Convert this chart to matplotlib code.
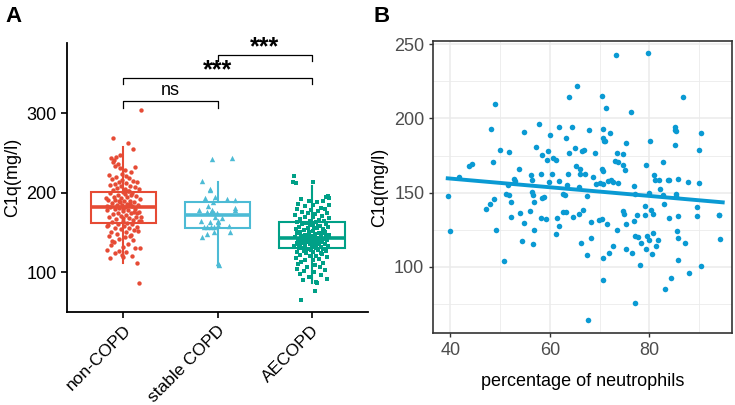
import matplotlib.pyplot as plt
import numpy as np

plt.rcParams['font.family'] = ['Liberation Sans', 'DejaVu Sans']

# ---- panel A data ----
groups = ['non-COPD', 'stable COPD', 'AECOPD']
colors = ['#E64B35', '#4DBBD5', '#00A087']
markers = ['o', '^', 's']

box_q1 = [162, 155.5, 130]
box_med = [181.5, 172, 142.5]
box_q3 = [200.5, 188.5, 163]
whis_lo = [112, 107, 86]
whis_hi = [257, 214, 209]

noncopd_y = [304, 269, 263, 255, 247, 245, 244, 241, 238, 236, 233, 232, 231, 229, 226,
             224, 222, 221, 220, 218, 217, 216, 215, 214, 213, 212, 211, 210, 209, 208,
             207, 206, 205, 204, 203, 202, 201, 200, 199, 198, 197, 196, 195, 194, 193,
             192, 191, 190, 190, 189, 188, 187, 186, 185, 185, 184, 183, 182, 182, 181,
             180, 179, 178, 178, 177, 176, 175, 174, 173, 172, 171, 170, 169, 168, 167,
             166, 165, 164, 163, 162, 161, 160, 159, 158, 157, 156, 155, 154, 153, 151,
             150, 148, 147, 145, 144, 142, 140, 138, 136, 134, 132, 130, 128, 127, 126,
             124, 122, 121, 119, 118, 112, 86, 186, 179, 174, 193, 170, 188, 197, 165,
             183, 176, 168, 191, 202, 158, 152, 146, 139, 131]
noncopd_dx = [0.19, -0.11, 0.05, 0.10, -0.04, -0.08, -0.13, -0.10, -0.11, -0.06, -0.09, 0.12,
              -0.04, 0.02, 0.08, -0.02, -0.15, 0.03, -0.08, 0.06, -0.12, -0.02, 0.10, -0.05,
              0.14, 0.03, -0.09, -0.14, 0.07, -0.03, 0.12, -0.07, 0.02, 0.16, -0.11, 0.05,
              -0.01, -0.14, 0.09, 0.02, -0.06, 0.13, -0.10, 0.04, -0.03, 0.18, -0.16, 0.07,
              -0.05, 0.01, 0.11, -0.12, 0.04, -0.07, 0.15, -0.02, 0.09, -0.14, 0.02, -0.05,
              0.12, -0.09, 0.05, -0.17, 0.00, 0.16, -0.06, 0.08, -0.11, 0.03, -0.03, 0.13,
              -0.15, 0.06, -0.08, 0.10, -0.01, 0.17, -0.12, 0.04, -0.06, 0.09, -0.16, 0.01,
              0.14, -0.09, 0.06, -0.03, 0.11, -0.13, 0.03, -0.07, 0.08, -0.15, 0.02, -0.05,
              0.10, -0.10, 0.05, -0.13, 0.00, 0.12, -0.18, -0.05, 0.03, -0.09, -0.02, 0.09,
              -0.01, -0.14, 0.14, 0.16, 0.07, -0.01, 0.14, -0.19, 0.19, -0.04, 0.08, 0.19,
              -0.17, 0.11, -0.01, -0.09, 0.06, -0.18, 0.15, 0.07, -0.12, 0.18]

stable_y = [242, 243, 215, 205, 203, 193, 195, 192, 191, 183, 188, 178, 176, 176, 178,
            175, 181, 178, 175, 165, 163, 165, 163, 157, 157, 157, 157, 159, 158, 144,
            148, 150, 150, 111, 109, 170, 168]
stable_dx = [-0.06, 0.15, -0.16, -0.08, -0.08, -0.13, -0.03, 0.10, 0.19, -0.10, -0.05,
             -0.20, -0.11, -0.07, -0.06, -0.04, 0.19, 0.19, -0.01, -0.18, -0.08, 0.00, 0.01,
             -0.14, -0.11, -0.07, -0.04, 0.01, 0.12, -0.17, -0.11, -0.04, 0.13, 0.00, 0.02,
             -0.03, 0.05]

aecopd_y = [221, 214, 212, 214, 196, 195, 193, 192, 190, 189, 188, 186, 185, 184, 183,
            181, 180, 179, 178, 177, 176, 175, 174, 173, 172, 171, 170, 169, 168, 167,
            166, 165, 164, 163, 163, 162, 161, 160, 160, 159, 158, 157, 157, 156, 155,
            154, 154, 153, 152, 151, 151, 150, 149, 149, 148, 147, 147, 146, 145, 145,
            144, 144, 143, 143, 142, 142, 141, 141, 140, 140, 139, 139, 138, 138, 137,
            137, 136, 136, 135, 135, 134, 134, 133, 133, 132, 132, 131, 131, 130, 129,
            129, 128, 127, 127, 126, 125, 124, 123, 122, 121, 120, 119, 118, 117, 116,
            115, 113, 112, 110, 109, 107, 106, 104, 103, 101, 100, 98, 96, 94, 92,
            90, 88, 86, 77, 65, 146, 139, 152, 135, 143, 158, 128, 149, 141, 137,
            155, 133, 124, 161, 147]
aecopd_dx = [-0.19, -0.20, -0.17, 0.01, 0.17, 0.15, 0.19, -0.11, 0.12, -0.03, 0.06,
             -0.14, 0.18, 0.02, -0.07, 0.10, -0.16, 0.14, -0.01, 0.07, -0.10, 0.16, -0.04,
             0.04, -0.18, 0.11, -0.07, 0.01, 0.19, -0.12, 0.08, -0.02, 0.13, -0.15, 0.05,
             -0.06, 0.15, -0.10, 0.02, -0.01, 0.09, -0.13, 0.17, -0.04, 0.06, -0.17, 0.12,
             -0.08, 0.02, -0.12, 0.14, -0.03, 0.08, -0.15, 0.04, -0.07, 0.18, -0.01, 0.10,
             -0.11, 0.03, -0.18, 0.07, -0.05, 0.13, -0.09, 0.01, -0.14, 0.16, -0.03, 0.06,
             -0.10, 0.11, -0.06, 0.02, -0.16, 0.14, -0.02, 0.08, -0.12, 0.04, -0.07, 0.17,
             -0.19, 0.00, 0.10, -0.09, 0.05, -0.13, 0.12, -0.04, 0.07, -0.08, 0.15, -0.15,
             0.02, -0.06, 0.11, -0.12, 0.05, -0.02, 0.16, -0.17, 0.08, -0.07, 0.01, -0.11,
             0.12, -0.14, 0.04, -0.05, 0.09, -0.16, 0.14, -0.08, 0.03, -0.12, 0.10, -0.03,
             0.16, -0.09, 0.05, 0.06, 0.04, -0.11, -0.05, 0.09, 0.13, -0.16, 0.00, 0.07,
             -0.01, 0.11, 0.05, -0.08, 0.03, -0.13, 0.10, -0.02, 0.15]

# ---- panel B data ----
neut_x = [40.0, 47.2, 49.2, 50.8, 52.1, 54.0, 54.8, 54.5, 56.1, 56.6, 56.9, 58.2, 59.3,
          61.2, 61.5, 61.9, 62.7, 63.2, 64.6, 65.9, 66.2, 66.6, 67.5, 68.2, 68.2, 67.6,
          70.6, 70.6, 69.9, 70.5, 71.5, 71.9, 72.7, 73.5, 74.7, 74.8, 75.2, 75.2, 76.5,
          76.8, 77.1, 77.6, 77.1, 77.5, 78.0, 78.3, 79.0, 79.1, 79.5, 79.9, 79.3, 80.3,
          80.7, 80.7, 80.6, 81.4, 81.8, 82.9, 83.2, 84.0, 84.3, 85.5, 85.8, 85.8, 85.7,
          87.2, 88.0, 89.5, 89.5, 90.3, 94.0, 94.2,
          39.5, 41.7, 43.7, 44.3, 48.0, 48.7, 48.6, 48.1, 48.9, 49.9, 51.5, 51.2, 51.8,
          51.8, 52.1, 52.9, 53.1, 53.9, 54.8, 56.3, 56.4, 56.5, 56.7, 56.9, 57.3, 57.8,
          58.2, 58.5, 58.4, 58.9, 59.4, 59.7, 60.1, 60.5, 59.9, 60.6, 61.2, 61.8, 61.8,
          62.6, 63.1, 63.3, 63.6, 63.4, 63.9, 63.8, 64.4, 65.0, 65.4, 65.2, 66.0, 65.9,
          66.1, 67.0, 66.5, 66.8, 67.8, 67.4, 68.6, 69.0, 69.3, 70.1, 70.6, 70.4, 70.6,
          70.8, 70.4, 70.7, 71.1, 71.2, 70.7, 71.7, 72.2, 72.1, 72.6, 73.1, 73.3, 73.5,
          73.6, 74.6, 75.0, 74.7, 75.2, 73.6, 76.3, 76.8, 77.0, 79.2, 79.6, 80.2, 80.0,
          81.0, 81.2, 81.9, 82.7, 82.2, 82.8, 83.7, 84.0, 85.1, 85.2, 85.4, 85.1, 85.3,
          85.4, 85.7, 86.7, 87.7, 89.9, 90.0, 90.4, 94.0]
c1q_y = [124.3, 139.2, 124.8, 103.8, 133.8, 136.0, 129.5, 117.5, 137.4, 115.3, 124.5,
         133.1, 132.4, 122.0, 132.6, 127.7, 136.9, 136.9, 133.5, 135.3, 116.2, 138.5,
         108.1, 119.3, 130.2, 63.7, 105.8, 91.2, 131.3, 132.2, 128.6, 109.2, 113.7, 124.5,
         137.4, 135.8, 128.6, 112.1, 109.4, 130.6, 120.7, 120.0, 75.7, 134.7, 100.9, 116.2,
         141.2, 134.7, 120.5, 117.8, 112.1, 138.0, 135.8, 123.0, 108.3, 113.7, 118.2,
         142.5, 85.1, 132.9, 92.3, 123.9, 119.6, 104.3, 134.2, 116.0, 95.9, 140.3, 134.0,
         100.2, 134.9, 118.4,
         147.5, 160.4, 168.0, 169.4, 142.1, 145.5, 170.7, 193.0, 209.9, 179.0, 155.2,
         148.9, 148.2, 177.7, 143.9, 159.0, 158.1, 166.2, 191.2, 161.7, 158.8, 150.5,
         148.6, 143.7, 180.9, 196.2, 162.6, 175.2, 146.4, 147.1, 172.3, 178.2, 188.7,
         162.6, 156.8, 173.2, 172.3, 194.1, 158.1, 149.3, 148.6, 186.5, 162.6, 155.0,
         176.4, 214.2, 194.4, 180.2, 221.6, 167.8, 166.0, 153.8, 162.6, 162.6, 177.9,
         178.8, 191.9, 147.5, 160.6, 177.0, 155.6, 156.5, 155.6, 215.3, 186.9, 184.9,
         166.0, 164.6, 184.5, 207.0, 193.2, 158.1, 158.3, 190.0, 157.2, 171.0, 242.8,
         176.4, 170.5, 168.5, 165.5, 176.0, 183.6, 156.3, 204.5, 154.5, 148.9, 168.7,
         243.9, 185.1, 149.8, 161.7, 158.3, 158.3, 170.5, 152.7, 148.2, 158.3, 158.3,
         194.4, 192.1, 191.7, 181.8, 149.3, 147.7, 159.0, 214.4, 157.2, 178.8, 156.3,
         190.0, 134.9]
fit_x = [39.5, 94.7]
fit_y = [159.6, 143.4]

fig = plt.figure(figsize=(7.35, 4.05), dpi=100)

# ---------------- Panel A ----------------
axA = fig.add_axes([0.0912, 0.2296, 0.4095, 0.664])
stats = []
for i in range(3):
    stats.append(dict(med=box_med[i], q1=box_q1[i], q3=box_q3[i],
                      whislo=whis_lo[i], whishi=whis_hi[i], fliers=[]))
bp = axA.bxp(stats, positions=[1, 2, 3], widths=0.7, showcaps=False,
             showfliers=False, patch_artist=True)
for i in range(3):
    bp['boxes'][i].set(facecolor='white', edgecolor=colors[i], linewidth=1.5, zorder=2)
    bp['medians'][i].set(color=colors[i], linewidth=2.6, zorder=2)
    bp['whiskers'][2 * i].set(color=colors[i], linewidth=1.5, zorder=2)
    bp['whiskers'][2 * i + 1].set(color=colors[i], linewidth=1.5, zorder=2)

all_y = [noncopd_y, stable_y, aecopd_y]
all_dx = [noncopd_dx, stable_dx, aecopd_dx]
sizes = [10, 15, 11]
for i in range(3):
    xs = np.array(all_dx[i]) + (i + 1)
    axA.scatter(xs, all_y[i], s=sizes[i], marker=markers[i], color=colors[i],
                linewidths=0, zorder=3)

axA.set_xlim(0.4, 3.6)
axA.set_ylim(50, 388)
axA.set_yticks([100, 200, 300])
axA.set_xticks([1, 2, 3])
axA.set_xticklabels(groups, rotation=45, ha='right', rotation_mode='anchor')
axA.tick_params(axis='y', labelsize=13, length=4, width=1.2, colors='black')
axA.tick_params(axis='x', labelsize=12.5, length=4, width=1.2, colors='black')
axA.spines['top'].set_visible(False)
axA.spines['right'].set_visible(False)
axA.spines['left'].set_linewidth(1.3)
axA.spines['bottom'].set_linewidth(1.3)
axA.set_ylabel('C1q(mg/l)', fontsize=13)

# significance brackets
brackets = [(1, 2, 315, 'ns'), (1, 3, 344, '***'), (2, 3, 373, '***')]
for x0, x1, h, lab in brackets:
    axA.plot([x0, x0, x1, x1], [h - 8, h, h, h - 8], color='black', lw=0.9,
             clip_on=False)
    if lab == 'ns':
        axA.text((x0 + x1) / 2, h + 3, lab, ha='center', va='bottom', fontsize=13)
    else:
        axA.text((x0 + x1) / 2, h - 5, lab, ha='center', va='bottom', fontsize=18,
                 fontweight='bold')

# ---------------- Panel B ----------------
axB = fig.add_axes([0.5895, 0.177, 0.406, 0.7225])
axB.set_xlim(36.6, 96.5)
axB.set_ylim(55, 252.5)
axB.set_xticks([40, 60, 80])
axB.set_yticks([100, 150, 200, 250])
axB.set_xticks([50, 70, 90], minor=True)
axB.set_yticks([75, 125, 175, 225], minor=True)
axB.grid(which='major', color='#EBEBEB', linewidth=1.1)
axB.grid(which='minor', color='#EBEBEB', linewidth=0.6)
axB.set_axisbelow(True)
axB.scatter(neut_x, c1q_y, s=16, color='#0A9AD3', linewidths=0, zorder=3)
axB.plot(fit_x, fit_y, color='#0A9AD3', linewidth=2.8, zorder=4)
for s in axB.spines.values():
    s.set_color('#333333')
    s.set_linewidth(1.2)
axB.tick_params(which='major', labelsize=13, length=3, width=1, colors='#333333',
                labelcolor='#4D4D4D')
axB.tick_params(which='minor', length=0)
axB.set_xlabel('percentage of neutrophils', fontsize=13, labelpad=10)
axB.set_ylabel('C1q(mg/l)', fontsize=13)

fig.text(0.008, 0.985, 'A', fontsize=16, fontweight='bold', va='top')
fig.text(0.508, 0.985, 'B', fontsize=16, fontweight='bold', va='top')

fig.savefig('out.png', dpi=100)
